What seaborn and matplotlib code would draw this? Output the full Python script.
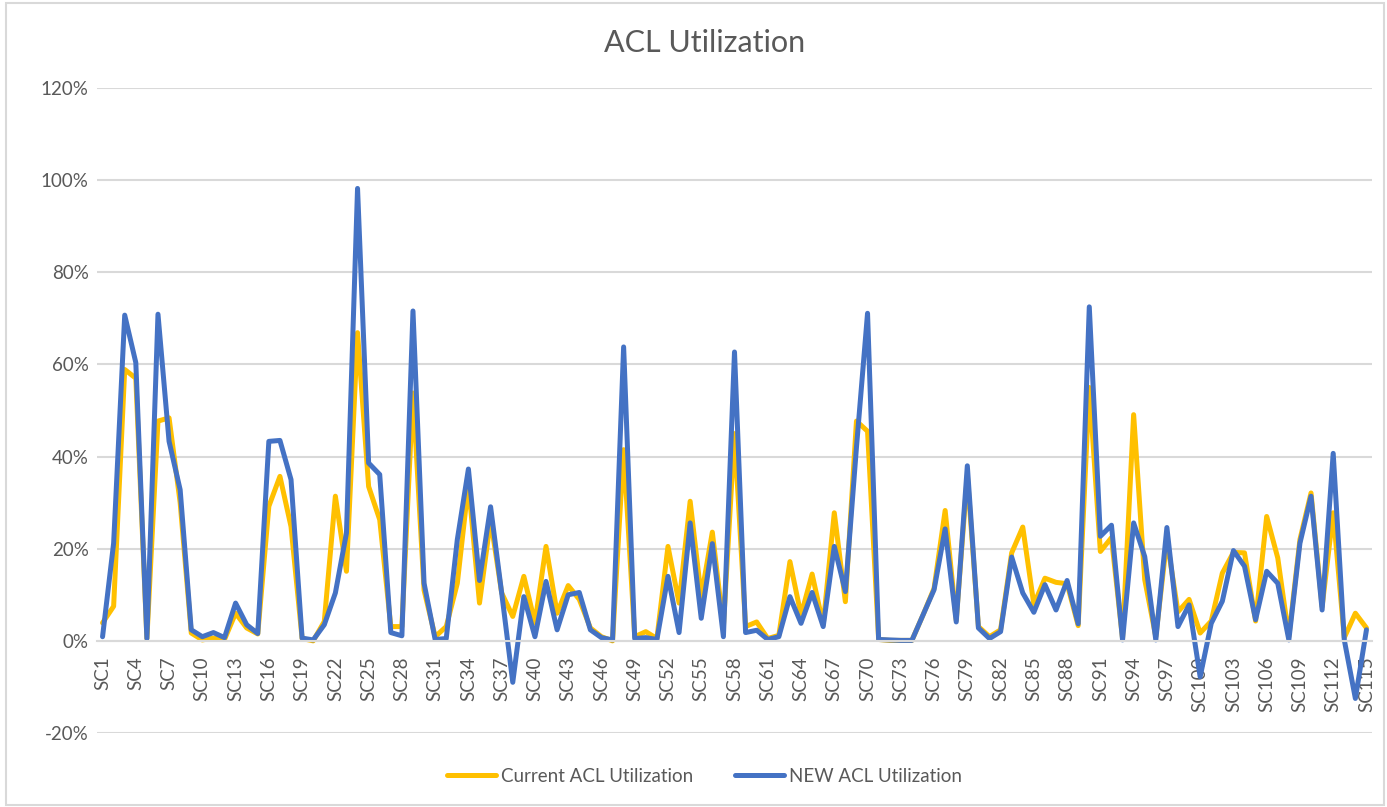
import matplotlib
matplotlib.use("Agg")
import matplotlib.pyplot as plt
import matplotlib.ticker as mticker
from matplotlib.patches import Rectangle
import pandas as pd
import seaborn as sns

# categories SC1..SC115
categories = [f"SC{i}" for i in range(1, 116)]

# values in percent
current_util = [
    3.9, 7.5, 58.9, 57.0, 0.5, 47.7, 48.4, 30.0, 1.7, 0.2,
    0.6, 0.3, 6.0, 2.8, 1.5, 29.2, 35.7, 24.8, 0.5, 0.0,
    4.2, 31.4, 15.1, 66.9, 33.5, 26.3, 3.1, 3.1, 53.8, 11.0,
    0.9, 3.1, 12.5, 34.0, 8.2, 26.3, 10.4, 5.3, 14.0, 3.9,
    20.5, 6.0, 12.0, 9.0, 2.8, 0.9, 0.0, 41.5, 0.9, 2.0,
    0.5, 20.5, 8.2, 30.3, 9.6, 23.6, 3.1, 45.0, 3.1, 4.1,
    0.5, 1.2, 17.2, 5.6, 14.5, 3.5, 27.8, 8.5, 47.7, 45.5,
    0.3, 0.1, 0.1, 0.1, 5.6, 11.4, 28.3, 4.5, 36.0, 3.1,
    0.9, 2.4, 19.1, 24.7, 7.9, 13.6, 12.7, 12.4, 3.3, 55.0,
    19.4, 22.4, 0.5, 49.1, 13.3, 0.9, 22.0, 6.3, 9.0, 1.7,
    4.3, 14.7, 19.2, 19.1, 4.3, 27.0, 18.0, 0.9, 22.0, 32.1,
    7.4, 27.8, 0.7, 6.0, 2.8,
]
new_util = [
    0.9, 21.2, 70.7, 60.4, 0.5, 70.9, 43.3, 32.8, 2.4, 0.9,
    1.8, 0.7, 8.2, 3.5, 1.6, 43.3, 43.5, 35.0, 0.6, 0.2,
    3.5, 10.4, 23.4, 98.2, 38.6, 36.1, 1.8, 1.1, 71.6, 12.5,
    0.3, 0.5, 22.0, 37.3, 13.1, 29.1, 10.4, -9.0, 9.6, 0.9,
    12.9, 2.4, 10.0, 10.5, 2.4, 0.7, 0.2, 63.8, 0.5, 0.7,
    0.3, 14.0, 1.8, 25.6, 4.9, 21.1, 0.9, 62.7, 1.8, 2.3,
    0.3, 0.9, 9.6, 3.8, 10.5, 3.1, 20.5, 10.7, 42.0, 71.1,
    0.3, 0.2, 0.1, 0.1, 5.6, 11.1, 24.3, 4.1, 38.0, 2.8,
    0.5, 2.0, 18.2, 10.4, 6.2, 12.2, 6.7, 13.1, 3.7, 72.5,
    22.7, 25.1, 0.2, 25.6, 18.3, 0.2, 24.6, 3.1, 7.8, -7.8,
    3.8, 8.6, 19.6, 16.2, 4.6, 15.1, 12.5, 0.2, 21.2, 31.4,
    6.7, 40.7, 0.2, -12.5, 2.4,
]

series_names = ["Current ACL Utilization", "NEW ACL Utilization"]
colors = ["#FFC000", "#4472C4"]

df = pd.DataFrame({
    "cat": categories * 2,
    "value": [v / 100 for v in current_util] + [v / 100 for v in new_util],
    "series": [series_names[0]] * len(categories) + [series_names[1]] * len(categories),
})

sns.set_theme(style="white")
plt.rcParams["font.family"] = ["Lato", "DejaVu Sans"]

fig = plt.figure(figsize=(13.87, 8.07), dpi=100)
ax = fig.add_axes([97 / 1387, 74 / 807, 1275 / 1387, 645 / 807])

sns.lineplot(data=df, x="cat", y="value", hue="series", hue_order=series_names,
             palette=colors, linewidth=3.6, sort=False, ax=ax)

# x axis crosses at 0 like in Excel (do this before styling ticks, it resets them)
for s in ["top", "right", "left"]:
    ax.spines[s].set_visible(False)
ax.spines["bottom"].set_position(("data", 0))
ax.spines["bottom"].set_color("#D9D9D9")
ax.spines["bottom"].set_linewidth(1.5)

ax.set_xlim(-0.5, len(categories) - 0.5)
ax.set_ylim(-0.2, 1.2)
ax.set_yticks([-0.2, 0, 0.2, 0.4, 0.6, 0.8, 1.0, 1.2])
ax.yaxis.set_major_formatter(mticker.FuncFormatter(lambda v, p: f"{v * 100:.0f}%"))
ax.yaxis.grid(True, color="#D9D9D9", linewidth=1.5)
ax.set_axisbelow(True)

tick_pos = list(range(0, len(categories), 3))
ax.set_xticks(tick_pos)
ax.set_xticklabels([categories[i] for i in tick_pos])
plt.setp(ax.get_xticklabels(), rotation=90, va="top", ha="center")

ax.tick_params(axis="both", length=0, labelsize=13.5, labelcolor="#595959")
ax.tick_params(axis="x", pad=11)
ax.tick_params(axis="y", pad=6)
ax.set_xlabel("")
ax.set_ylabel("")

fig.text(0.508, 1 - 43 / 807, "ACL Utilization", ha="center", va="center",
         fontsize=22, color="#595959")

ax.get_legend().remove()
handles, labels = ax.get_legend_handles_labels()
fig.legend(handles, labels, loc="center", bbox_to_anchor=(0.508, 0.038), ncol=2,
           frameon=False, fontsize=13.5, labelcolor="#595959", handlelength=2.6,
           columnspacing=2.2, handletextpad=0.3)

fig.patches.append(Rectangle((0.004, 0.002), 0.994, 0.994, transform=fig.transFigure,
                             fill=False, edgecolor="#D9D9D9", linewidth=1.5))

fig.savefig("out.png", dpi=100)
